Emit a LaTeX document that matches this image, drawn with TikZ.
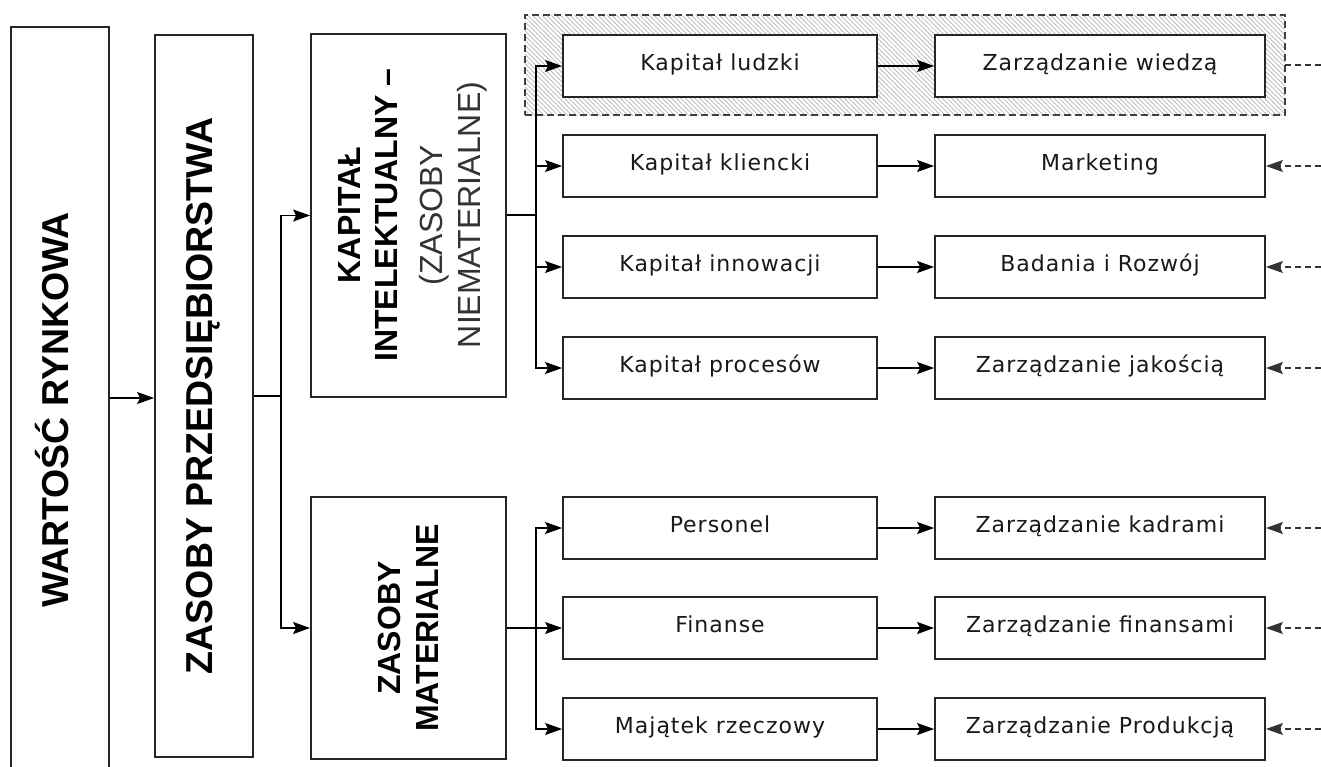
\documentclass[tikz,border=0pt]{standalone}
\usepackage{fontspec}
\setmainfont{Liberation Sans}
\newfontfamily\boxfont[LetterSpace=4.5]{DejaVu Sans}
\usetikzlibrary{arrows.meta,patterns.meta}
\begin{document}
\begin{tikzpicture}[x=1pt,y=-1pt,
  box/.style={draw=black!85, line width=1.8pt, fill=white, inner sep=0pt},
  bigbox/.style={box},
  cellfont/.style={font=\boxfont\fontsize{22}{26}\selectfont, text=black!90, text height=16pt, text depth=8pt},
  mbox/.style={box, cellfont, minimum width=314pt, minimum height=62pt},
  rbox/.style={box, cellfont, minimum width=330pt, minimum height=62pt},
  conn/.style={draw=black, line width=1.4pt},
  arr/.style={conn, -{Stealth[length=17pt,width=12pt,inset=3pt]}},
  dline/.style={conn, draw=black!80, dash pattern=on 6pt off 4pt},
  darr/.style={dline, -{Stealth[length=17pt,width=12pt,inset=3pt]}},
  vbold/.style={rotate=90, anchor=base, inner sep=0pt, font=\bfseries\fontsize{37.5}{40}\selectfont},
  vmid/.style={rotate=90, anchor=base, inner sep=0pt, font=\bfseries\fontsize{32}{36}\selectfont},
  vlight/.style={rotate=90, anchor=base, inner sep=0pt, font=\fontsize{32}{36}\selectfont, text=black!80},
  grpbox/.style={draw=black!75, line width=1.5pt, dash pattern=on 7pt off 4pt,
    pattern={Lines[angle=-45,distance=3.3pt,line width=0.7pt]}, pattern color=black!30,
    minimum width=760pt, minimum height=100pt, inner sep=0pt}
]
\useasboundingbox (0,0) rectangle (1321,766);
\clip (0,0) rectangle (1321,766);
\fill[white] (0,0) rectangle (1321,766);

% group frame (hatched)
\node[grpbox] (grp) at (905,65) {};

% big boxes
\node[bigbox, minimum width=98pt, minimum height=773pt] (b1) at (60,413.5) {};
\node[bigbox, minimum width=98pt, minimum height=722pt] (b2) at (204,396) {};
\node[bigbox, minimum width=195pt, minimum height=363pt] (b3) at (408.5,215.5) {};
\node[bigbox, minimum width=195pt, minimum height=262pt] (b4) at (408.5,628) {};

% texts of big boxes
\node[vbold] (t1) at (68,410) {WARTOŚĆ RYNKOWA};
\node[vbold] (t2) at (212,396) {ZASOBY PRZEDSIĘBIORSTWA};
\node[vmid] (t3a) at (360,215) {KAPITAŁ};
\node[vmid] (t3b) at (397,215) {INTELEKTUALNY –};
\node[vlight] (t3c) at (442,215) {(ZASOBY};
\node[vlight] (t3d) at (480,215) {NIEMATERIALNE)};
\node[vmid] (t4a) at (400,628) {ZASOBY};
\node[vmid] (t4b) at (438,628) {MATERIALNE};

% middle column
\node[mbox] (m1) at (720,66) {Kapitał ludzki};
\node[mbox] (m2) at (720,166) {Kapitał kliencki};
\node[mbox] (m3) at (720,267) {Kapitał innowacji};
\node[mbox] (m4) at (720,368) {Kapitał procesów};
\node[mbox] (m5) at (720,528) {Personel};
\node[mbox] (m6) at (720,628) {Finanse};
\node[mbox] (m7) at (720,729) {Majątek rzeczowy};

% right column
\node[rbox] (r1) at (1100,66) {Zarządzanie wiedzą};
\node[rbox] (r2) at (1100,166) {Marketing};
\node[rbox] (r3) at (1100,267) {Badania i Rozwój};
\node[rbox] (r4) at (1100,368) {Zarządzanie jakością};
\node[rbox] (r5) at (1100,528) {Zarządzanie kadrami};
\node[rbox] (r6) at (1100,628) {Zarządzanie finansami};
\node[rbox] (r7) at (1100,729) {Zarządzanie Produkcją};

% connectors
\draw[arr] (b1.east |- 0,398) -- (b2.west |- 0,398);
\coordinate (j1) at (281,396);
\draw[conn] (b2.east |- j1) -- (j1);
\draw[arr] (j1) |- (b3.west);
\draw[arr] (j1) |- (b4.west);

\coordinate (j2) at (536,215);
\draw[conn] (b3.east |- j2) -- (j2);
\draw[arr] (j2) |- (m1.west);
\draw[arr] (j2) |- (m2.west);
\draw[arr] (j2) |- (m3.west);
\draw[arr] (j2) |- (m4.west);

\coordinate (j3) at (536,628);
\draw[conn] (b4.east |- j3) -- (j3);
\draw[arr] (j3) |- (m5.west);
\draw[arr] (j3) -- (m6.west);
\draw[arr] (j3) |- (m7.west);

\foreach \i in {1,...,7} { \draw[arr] (m\i.east) -- (r\i.west); }

% dashed inputs from the right
\coordinate (e1) at (1321,65);
\draw[dline] (grp.east) -- (e1);
\foreach \i/\y in {2/166,3/267,4/368,5/528,6/628,7/729} {
  \coordinate (e\i) at (1321,\y);
  \draw[darr] (e\i) -- (r\i.east);
}
\end{tikzpicture}
\end{document}
